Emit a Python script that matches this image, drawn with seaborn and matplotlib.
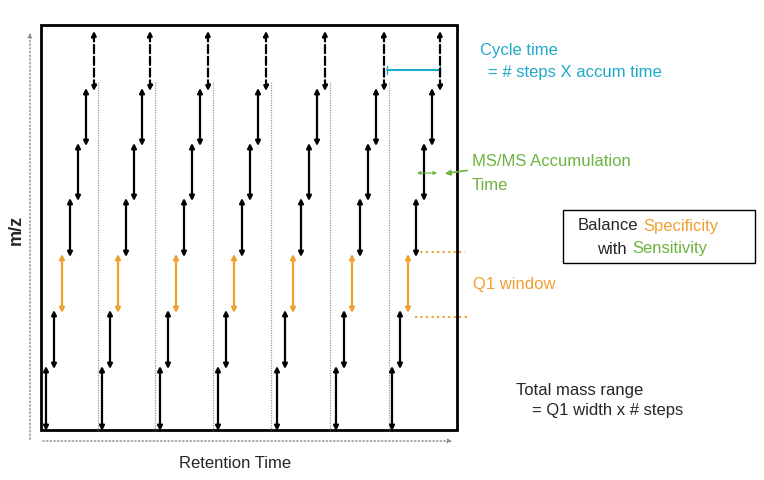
import matplotlib
matplotlib.use("Agg")
import matplotlib.pyplot as plt
import seaborn as sns

sns.set_theme(style="white", font="Liberation Sans")

# data in pixel coordinates of the diagram
cycle_starts = [46, 102, 160, 218, 277, 336, 392]
step_dx = 8
step_levels = [430, 368, 312, 256, 200, 145, 90, 33]
orange_step = 2
divider_x = [98, 155, 213, 271, 330, 389]

ORANGE = "#f0a030"
CYAN = "#1fa9c9"
GREEN = "#6cb33f"

fig = plt.figure(figsize=(7.64, 4.8), dpi=100)
ax = fig.add_axes([0, 0, 1, 1])
ax.set_xlim(0, 764)
ax.set_ylim(480, 0)
ax.axis("off")

# frame
ax.add_patch(plt.Rectangle((41, 25), 416, 405, fill=False, lw=2, color="black"))

# gray dividers
for x in divider_x:
    ax.plot([x, x], [82, 430], color="#999999", lw=0.9, linestyle=(0, (1, 1)))

# step arrows
for x0 in cycle_starts:
    for k in range(len(step_levels) - 1):
        x = x0 + k * step_dx
        color = ORANGE if k == orange_step else "black"
        ls = "--" if k == len(step_levels) - 2 else "-"
        ax.annotate("", xy=(x, step_levels[k + 1] - 2), xytext=(x, step_levels[k] + 1),
                    arrowprops=dict(arrowstyle="<|-|>", color=color, lw=1.6, ls=ls,
                                    mutation_scale=7, shrinkA=0, shrinkB=0))

# axis arrows
ax.annotate("", xy=(30, 30), xytext=(30, 442),
            arrowprops=dict(arrowstyle="-|>", color="#888888", lw=1, ls=":", mutation_scale=6))
ax.annotate("", xy=(455, 441), xytext=(40, 441),
            arrowprops=dict(arrowstyle="-|>", color="#888888", lw=1, ls=":", mutation_scale=6))
ax.text(16, 230, "m/z", rotation=90, fontsize=13, fontweight="bold", ha="center", va="center")
ax.text(235, 463, "Retention Time", fontsize=12, ha="center", va="center")

# cycle time
ax.plot([387, 440], [70, 70], color=CYAN, lw=1.5)
ax.plot([387, 387], [66, 74], color=CYAN, lw=1)
ax.plot([440, 440], [66, 74], color=CYAN, lw=1)
ax.text(480, 50, "Cycle time", color=CYAN, fontsize=12, va="center")
ax.text(488, 73, "= # steps X accum time", color=CYAN, fontsize=12, va="center")

# accumulation time
ax.annotate("", xy=(417, 173), xytext=(437, 173),
            arrowprops=dict(arrowstyle="<|-|>", color=GREEN, lw=0.8, mutation_scale=5, shrinkA=0, shrinkB=0))
ax.annotate("", xy=(442, 174), xytext=(470, 170),
            arrowprops=dict(arrowstyle="-|>", color=GREEN, lw=1.2, mutation_scale=8))
ax.text(472, 162, "MS/MS Accumulation", color=GREEN, fontsize=12, va="center")
ax.text(472, 185, "Time", color=GREEN, fontsize=12, va="center")

# balance box
ax.add_patch(plt.Rectangle((563, 210), 192, 53, fill=False, lw=1, color="black"))
ax.text(578, 226, "Balance", fontsize=12, va="center")
ax.text(643, 226, "Specificity", color=ORANGE, fontsize=12, va="center")
ax.text(597, 249, "with", fontsize=12, va="center")
ax.text(632, 249, "Sensitivity", color=GREEN, fontsize=12, va="center")

# Q1 window
ax.plot([415, 465], [252, 252], color=ORANGE, lw=1.5, ls=":")
ax.plot([415, 470], [317, 317], color=ORANGE, lw=1.5, ls=":")
ax.text(473, 285, "Q1 window", color=ORANGE, fontsize=12, va="center")

# mass range
ax.text(516, 390, "Total mass range", fontsize=12, va="center")
ax.text(532, 411, "= Q1 width x # steps", fontsize=12, va="center")

fig.savefig("out.png", dpi=100)
